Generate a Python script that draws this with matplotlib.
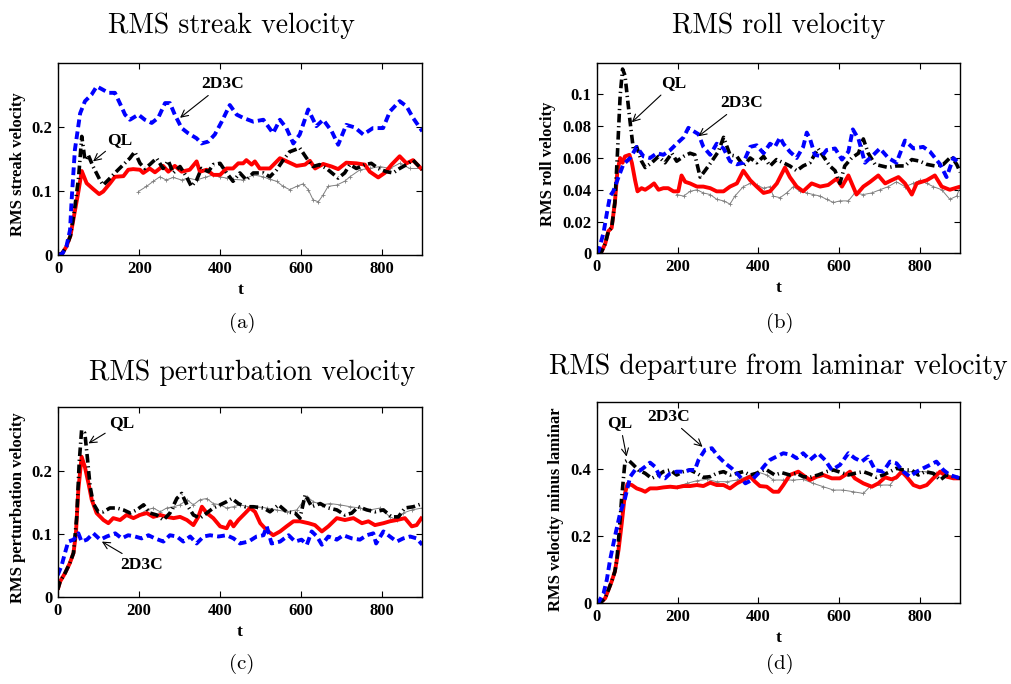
import numpy as np
import matplotlib
matplotlib.use('Agg')
import matplotlib.pyplot as plt

# %% data (t, value)
# (a) RMS streak velocity
red_a_t = [0, 10, 20, 30, 40, 50, 58, 70, 86, 101, 111, 128, 140, 161, 173, 185, 202, 210, 226, 239,
           259, 272, 288, 305, 325, 342, 350, 367, 383, 400, 416, 432, 445, 457, 465, 478, 486, 498,
           523, 548, 572, 589, 610, 622, 635, 655, 676, 692, 712, 737, 758, 770, 791, 807, 824, 844,
           861, 877, 900]
red_a = [0, 0.003, 0.013, 0.03, 0.065, 0.10, 0.131, 0.112, 0.103, 0.095, 0.099, 0.112, 0.122, 0.123,
         0.133, 0.134, 0.133, 0.128, 0.135, 0.129, 0.139, 0.130, 0.139, 0.130, 0.133, 0.146, 0.130,
         0.133, 0.125, 0.125, 0.135, 0.135, 0.143, 0.143, 0.148, 0.141, 0.146, 0.135, 0.135, 0.151,
         0.144, 0.139, 0.141, 0.147, 0.135, 0.142, 0.138, 0.134, 0.144, 0.143, 0.141, 0.130, 0.121,
         0.128, 0.141, 0.154, 0.143, 0.148, 0.133]
blue_a_t = [0, 10, 20, 29, 33, 41, 54, 66, 82, 95, 107, 124, 140, 152, 165, 177, 198, 214, 231, 247,
            264, 276, 288, 305, 321, 342, 354, 371, 387, 404, 424, 441, 457, 482, 507, 531, 548, 564,
            581, 597, 618, 638, 655, 676, 692, 712, 733, 754, 778, 803, 820, 844, 861, 877, 900]
blue_a = [0, 0.002, 0.013, 0.039, 0.086, 0.164, 0.221, 0.24, 0.25, 0.263, 0.259, 0.253, 0.253, 0.237,
          0.219, 0.211, 0.219, 0.211, 0.206, 0.214, 0.237, 0.237, 0.219, 0.198, 0.19, 0.182, 0.174,
          0.177, 0.188, 0.208, 0.234, 0.219, 0.214, 0.208, 0.211, 0.190, 0.211, 0.198, 0.174, 0.188,
          0.227, 0.201, 0.211, 0.193, 0.172, 0.203, 0.199, 0.188, 0.198, 0.198, 0.224, 0.240, 0.232,
          0.214, 0.193]
black_a_t = [0, 10, 20, 30, 40, 50, 58, 66, 74, 86, 103, 111, 128, 140, 161, 177, 189, 202, 214, 226,
             243, 259, 272, 284, 301, 317, 329, 342, 354, 371, 383, 400, 416, 432, 449, 465, 482, 507,
             523, 540, 556, 572, 597, 614, 630, 646, 663, 692, 708, 721, 737, 758, 774, 791, 811, 828,
             844, 861, 877, 900]
black_a = [0, 0.003, 0.013, 0.03, 0.07, 0.12, 0.185, 0.148, 0.156, 0.138, 0.117, 0.109, 0.12, 0.128,
           0.141, 0.151, 0.161, 0.143, 0.135, 0.141, 0.151, 0.135, 0.147, 0.128, 0.138, 0.122, 0.107,
           0.117, 0.135, 0.130, 0.141, 0.143, 0.128, 0.115, 0.128, 0.117, 0.128, 0.128, 0.122, 0.133,
           0.148, 0.161, 0.167, 0.151, 0.138, 0.141, 0.135, 0.12, 0.128, 0.141, 0.135, 0.141, 0.143,
           0.135, 0.130, 0.128, 0.135, 0.141, 0.148, 0.133]
gray_a_t = [198, 218, 235, 251, 267, 284, 305, 321, 342, 362, 383, 400, 416, 432, 457, 482, 507, 523,
            540, 556, 572, 589, 605, 618, 630, 643, 655, 667, 688, 708, 721, 746, 770, 795, 820, 844,
            869, 900]
gray_a = [0.099, 0.107, 0.115, 0.122, 0.117, 0.121, 0.117, 0.120, 0.117, 0.121, 0.125, 0.122, 0.120,
          0.118, 0.117, 0.125, 0.122, 0.118, 0.115, 0.107, 0.102, 0.107, 0.111, 0.102, 0.086, 0.083,
          0.094, 0.107, 0.109, 0.115, 0.122, 0.133, 0.135, 0.138, 0.135, 0.143, 0.135, 0.135]

# (b) RMS roll velocity
red_b_t = [0, 12, 21, 29, 37, 45, 51, 58, 64, 70, 81, 87, 95, 101, 111, 120, 132, 142, 153, 165, 177,
           190, 202, 210, 219, 231, 248, 264, 281, 297, 314, 330, 347, 363, 380, 396, 413, 429, 446,
           466, 478, 495, 511, 532, 553, 573, 594, 607, 623, 643, 660, 677, 697, 714, 730, 747, 763,
           780, 792, 817, 837, 854, 874, 900]
red_b = [0, 0.001, 0.006, 0.014, 0.016, 0.032, 0.051, 0.060, 0.057, 0.061, 0.062, 0.057, 0.046, 0.039,
         0.041, 0.040, 0.042, 0.044, 0.040, 0.041, 0.041, 0.039, 0.039, 0.049, 0.045, 0.044, 0.042,
         0.042, 0.041, 0.039, 0.039, 0.042, 0.044, 0.052, 0.046, 0.042, 0.038, 0.039, 0.044, 0.054,
         0.048, 0.042, 0.039, 0.044, 0.042, 0.043, 0.047, 0.042, 0.049, 0.037, 0.042, 0.045, 0.049,
         0.044, 0.046, 0.048, 0.044, 0.037, 0.044, 0.046, 0.049, 0.042, 0.040, 0.042]
blue_b_t = [0, 4, 17, 25, 33, 41, 54, 66, 83, 99, 116, 132, 149, 165, 182, 198, 215, 227, 239, 252,
            264, 281, 297, 314, 330, 347, 363, 380, 396, 413, 429, 441, 454, 462, 478, 495, 511, 520,
            528, 540, 557, 569, 590, 607, 623, 634, 648, 664, 685, 701, 722, 742, 763, 784, 808, 825,
            850, 866, 883, 900]
blue_b = [0, 0.001, 0.013, 0.025, 0.036, 0.039, 0.048, 0.056, 0.060, 0.067, 0.061, 0.060, 0.063,
          0.062, 0.065, 0.069, 0.073, 0.079, 0.077, 0.075, 0.067, 0.062, 0.069, 0.066, 0.058, 0.056,
          0.057, 0.067, 0.068, 0.063, 0.069, 0.067, 0.073, 0.069, 0.064, 0.060, 0.067, 0.076, 0.072,
          0.062, 0.061, 0.065, 0.066, 0.059, 0.064, 0.078, 0.072, 0.057, 0.062, 0.066, 0.060, 0.057,
          0.071, 0.066, 0.067, 0.064, 0.056, 0.048, 0.060, 0.056]
black_b_t = [0, 12, 21, 29, 37, 45, 51, 58, 64, 70, 76, 83, 91, 99, 111, 120, 136, 153, 169, 186, 198,
             215, 231, 243, 256, 268, 285, 301, 314, 330, 347, 363, 380, 396, 413, 429, 445, 462, 478,
             495, 511, 528, 548, 561, 577, 590, 602, 614, 631, 648, 660, 672, 689, 705, 722, 742, 763,
             780, 800, 817, 837, 858, 878, 891, 900]
black_b = [0, 0.001, 0.006, 0.014, 0.016, 0.032, 0.061, 0.099, 0.116, 0.112, 0.098, 0.082, 0.065,
           0.067, 0.058, 0.054, 0.057, 0.061, 0.057, 0.063, 0.058, 0.061, 0.063, 0.062, 0.048, 0.052,
           0.058, 0.064, 0.073, 0.062, 0.061, 0.055, 0.060, 0.057, 0.061, 0.055, 0.059, 0.057, 0.055,
           0.052, 0.055, 0.057, 0.066, 0.061, 0.055, 0.052, 0.044, 0.055, 0.060, 0.063, 0.072, 0.063,
           0.056, 0.055, 0.054, 0.055, 0.055, 0.059, 0.058, 0.056, 0.055, 0.056, 0.061, 0.056, 0.051]
gray_b_t = [198, 215, 231, 248, 264, 281, 297, 314, 330, 342, 363, 380, 396, 413, 429, 437, 454, 470,
            487, 503, 520, 536, 553, 569, 586, 602, 623, 639, 660, 681, 701, 722, 742, 763, 784, 800,
            817, 833, 854, 874, 891, 900]
gray_b = [0.037, 0.036, 0.039, 0.040, 0.038, 0.037, 0.034, 0.033, 0.031, 0.036, 0.042, 0.044, 0.043,
          0.041, 0.042, 0.036, 0.035, 0.038, 0.042, 0.039, 0.038, 0.037, 0.036, 0.034, 0.032, 0.033,
          0.033, 0.038, 0.037, 0.038, 0.040, 0.042, 0.045, 0.042, 0.044, 0.046, 0.044, 0.042, 0.040,
          0.034, 0.036, 0.042]

# (c) RMS perturbation velocity
red_c_t = [0, 6, 18, 30, 39, 45, 51, 59, 67, 76, 84, 96, 113, 125, 137, 154, 170, 187, 203, 220, 236,
           253, 269, 286, 302, 319, 335, 347, 356, 368, 384, 401, 417, 426, 434, 446, 463, 475, 487,
           500, 516, 532, 549, 565, 582, 598, 619, 635, 652, 668, 689, 709, 730, 751, 767, 783, 804,
           820, 837, 857, 874, 886, 900]
red_c = [0.012, 0.025, 0.038, 0.054, 0.070, 0.101, 0.170, 0.222, 0.206, 0.180, 0.154, 0.133, 0.122,
         0.117, 0.125, 0.122, 0.130, 0.125, 0.130, 0.133, 0.127, 0.130, 0.127, 0.125, 0.127, 0.122,
         0.114, 0.127, 0.143, 0.133, 0.125, 0.112, 0.109, 0.120, 0.112, 0.122, 0.133, 0.141, 0.135,
         0.117, 0.106, 0.098, 0.104, 0.112, 0.120, 0.120, 0.117, 0.114, 0.104, 0.112, 0.125, 0.122,
         0.125, 0.117, 0.120, 0.114, 0.117, 0.120, 0.122, 0.125, 0.112, 0.114, 0.127]
blue_c_t = [0, 10, 18, 26, 39, 51, 59, 72, 88, 105, 121, 142, 158, 174, 191, 207, 224, 240, 261, 277,
            294, 310, 327, 343, 360, 376, 397, 417, 434, 450, 471, 491, 508, 516, 528, 549, 570, 586,
            602, 615, 627, 640, 652, 668, 689, 705, 726, 746, 763, 779, 786, 804, 820, 837, 853, 870,
            886, 900]
blue_c = [0.035, 0.051, 0.070, 0.088, 0.091, 0.101, 0.088, 0.091, 0.101, 0.091, 0.096, 0.101, 0.093,
          0.098, 0.096, 0.093, 0.098, 0.093, 0.088, 0.098, 0.096, 0.088, 0.096, 0.085, 0.096, 0.098,
          0.096, 0.098, 0.093, 0.085, 0.088, 0.096, 0.098, 0.112, 0.085, 0.088, 0.098, 0.088, 0.091,
          0.083, 0.104, 0.096, 0.083, 0.096, 0.091, 0.098, 0.093, 0.091, 0.098, 0.101, 0.085, 0.104,
          0.096, 0.088, 0.093, 0.096, 0.093, 0.083]
black_c_t = [0, 6, 18, 30, 39, 47, 53, 59, 67, 73, 80, 88, 100, 113, 129, 146, 162, 179, 195, 212, 228,
             244, 261, 277, 294, 306, 319, 335, 351, 368, 384, 401, 417, 430, 446, 463, 483, 508, 524,
             545, 565, 586, 598, 611, 627, 648, 668, 689, 709, 726, 742, 763, 783, 804, 824, 841, 857,
             878, 900]
black_c = [0.012, 0.025, 0.038, 0.054, 0.070, 0.127, 0.212, 0.264, 0.259, 0.222, 0.175, 0.148, 0.135,
           0.135, 0.141, 0.141, 0.138, 0.133, 0.138, 0.146, 0.133, 0.130, 0.122, 0.133, 0.156, 0.164,
           0.146, 0.130, 0.125, 0.133, 0.141, 0.146, 0.151, 0.156, 0.148, 0.143, 0.143, 0.141, 0.135,
           0.146, 0.135, 0.133, 0.125, 0.162, 0.143, 0.148, 0.141, 0.138, 0.130, 0.133, 0.143, 0.138,
           0.135, 0.138, 0.127, 0.127, 0.141, 0.143, 0.148]
gray_c_t = [199, 220, 236, 253, 269, 286, 302, 319, 335, 351, 368, 384, 401, 417, 434, 450, 471, 491,
            516, 541, 565, 590, 615, 631, 652, 672, 697, 722, 746, 771, 796, 820, 837, 853, 874, 900]
gray_c = [0.130, 0.138, 0.141, 0.135, 0.141, 0.143, 0.146, 0.154, 0.146, 0.154, 0.156, 0.148, 0.146,
          0.141, 0.143, 0.146, 0.143, 0.143, 0.141, 0.138, 0.135, 0.138, 0.159, 0.151, 0.146, 0.148,
          0.146, 0.143, 0.141, 0.138, 0.141, 0.127, 0.122, 0.133, 0.138, 0.141]

# (d) RMS departure from laminar velocity
red_d_t = [0, 12, 21, 29, 37, 45, 54, 62, 70, 76, 87, 99, 111, 120, 132, 149, 165, 182, 198, 215, 231,
           248, 264, 281, 297, 314, 330, 347, 363, 380, 392, 404, 421, 437, 450, 462, 478, 499, 516,
           528, 545, 561, 582, 602, 615, 627, 639, 660, 681, 697, 714, 730, 742, 755, 767, 784, 800,
           817, 833, 850, 866, 883, 900]
red_d = [0, 0.005, 0.015, 0.040, 0.065, 0.095, 0.159, 0.239, 0.328, 0.356, 0.353, 0.343, 0.338, 0.333,
         0.343, 0.343, 0.346, 0.348, 0.346, 0.350, 0.350, 0.353, 0.350, 0.360, 0.353, 0.353, 0.343,
         0.358, 0.368, 0.378, 0.363, 0.350, 0.348, 0.333, 0.333, 0.353, 0.383, 0.393, 0.378, 0.368,
         0.378, 0.383, 0.373, 0.373, 0.383, 0.393, 0.373, 0.358, 0.348, 0.358, 0.376, 0.370, 0.376,
         0.393, 0.378, 0.353, 0.346, 0.353, 0.373, 0.393, 0.378, 0.373, 0.373]
blue_d_t = [0, 4, 17, 25, 33, 45, 58, 70, 83, 95, 107, 120, 132, 144, 157, 169, 182, 198, 215, 231,
            243, 252, 268, 285, 301, 318, 334, 351, 368, 384, 400, 417, 429, 445, 462, 482, 495, 511,
            528, 548, 565, 582, 602, 623, 639, 656, 672, 689, 709, 726, 742, 759, 775, 792, 808, 825,
            841, 858, 874, 900]
blue_d = [0, 0.002, 0.030, 0.070, 0.129, 0.199, 0.269, 0.313, 0.378, 0.398, 0.396, 0.408, 0.420,
          0.408, 0.378, 0.373, 0.388, 0.393, 0.393, 0.398, 0.398, 0.428, 0.458, 0.463, 0.438, 0.418,
          0.403, 0.383, 0.358, 0.368, 0.388, 0.413, 0.428, 0.438, 0.448, 0.443, 0.433, 0.448, 0.428,
          0.448, 0.428, 0.398, 0.413, 0.448, 0.433, 0.423, 0.438, 0.398, 0.393, 0.423, 0.418, 0.393,
          0.378, 0.393, 0.403, 0.413, 0.423, 0.398, 0.383, 0.373]
black_d_t = [0, 12, 21, 29, 37, 45, 50, 56, 62, 70, 78, 91, 103, 120, 136, 153, 165, 182, 198, 215,
             231, 248, 264, 281, 297, 314, 330, 347, 363, 380, 396, 413, 421, 441, 458, 478, 495, 511,
             528, 548, 569, 586, 606, 623, 639, 660, 676, 693, 709, 726, 742, 759, 779, 796, 813, 833,
             850, 866, 883, 900]
black_d = [0, 0.005, 0.015, 0.040, 0.065, 0.095, 0.130, 0.219, 0.318, 0.423, 0.428, 0.413, 0.398,
           0.388, 0.373, 0.383, 0.393, 0.398, 0.383, 0.393, 0.398, 0.388, 0.376, 0.378, 0.388, 0.393,
           0.383, 0.388, 0.393, 0.383, 0.388, 0.398, 0.398, 0.383, 0.390, 0.383, 0.388, 0.378, 0.376,
           0.383, 0.393, 0.398, 0.390, 0.383, 0.388, 0.393, 0.386, 0.376, 0.383, 0.393, 0.403, 0.398,
           0.398, 0.383, 0.393, 0.388, 0.368, 0.383, 0.378, 0.373]
gray_d_t = [198, 223, 248, 272, 297, 322, 347, 371, 396, 421, 437, 462, 487, 511, 536, 561, 586, 610,
            635, 660, 676, 701, 726, 742, 767, 792, 817, 841, 866, 900]
gray_d = [0.348, 0.358, 0.366, 0.370, 0.363, 0.363, 0.368, 0.378, 0.393, 0.383, 0.368, 0.368, 0.368,
          0.370, 0.358, 0.348, 0.338, 0.338, 0.333, 0.328, 0.348, 0.353, 0.353, 0.378, 0.393, 0.393,
          0.393, 0.388, 0.383, 0.378]

titles = ['RMS streak velocity', 'RMS roll velocity',
          'RMS perturbation velocity', 'RMS departure from laminar velocity']
ylabels = ['RMS streak velocity', 'RMS roll velocity',
           'RMS perturbation velocity', 'RMS velocity minus laminar']
captions = ['(a)', '(b)', '(c)', '(d)']

# %% figure
W, H = 1012, 684
fig = plt.figure(figsize=(W / 100, H / 100), dpi=100)

def px_axes(x0, y0, x1, y1):
    # axes from pixel box (top-left origin)
    return fig.add_axes([x0 / W, 1 - y1 / H, (x1 - x0) / W, (y1 - y0) / H])

ax_a = px_axes(58.3, 62.7, 422.3, 255.0)
ax_b = px_axes(596.7, 62.7, 960.3, 253.3)
ax_c = px_axes(57.7, 407.3, 422.3, 597.3)
ax_d = px_axes(596.7, 402.3, 960.3, 603.3)

bold = dict(family='Liberation Serif', weight='bold')
blue_dash = (0, (2.0, 1.1))
black_dashdot = (0, (2.4, 1.0, 0.35, 1.0))

panels = [
    (ax_a, (red_a_t, red_a), (blue_a_t, blue_a), (black_a_t, black_a), (gray_a_t, gray_a)),
    (ax_b, (red_b_t, red_b), (blue_b_t, blue_b), (black_b_t, black_b), (gray_b_t, gray_b)),
    (ax_c, (red_c_t, red_c), (blue_c_t, blue_c), (black_c_t, black_c), (gray_c_t, gray_c)),
    (ax_d, (red_d_t, red_d), (blue_d_t, blue_d), (black_d_t, black_d), (gray_d_t, gray_d)),
]

for ax, red, blue, black, gray in panels:
    ax.plot(gray[0], gray[1], color='0.5', lw=0.7, marker='+', ms=3.5, mew=0.6)
    ax.plot(red[0], red[1], color='red', lw=2.8, solid_capstyle='butt')
    ax.plot(black[0], black[1], color='black', lw=2.6, linestyle=black_dashdot)
    ax.plot(blue[0], blue[1], color='blue', lw=2.8, linestyle=blue_dash)

# %% cosmetics
ylims = [(0, 0.3), (0, 0.12), (0, 0.3), (0, 0.6)]
yticks = [[0, 0.1, 0.2], [0, 0.02, 0.04, 0.06, 0.08, 0.1], [0, 0.1, 0.2], [0, 0.2, 0.4]]
ylabel_x = [-0.089, -0.112, -0.087, -0.089]

for i, ax in enumerate([ax_a, ax_b, ax_c, ax_d]):
    ax.set_xlim(0, 900)
    ax.set_ylim(*ylims[i])
    ax.set_xticks([0, 200, 400, 600, 800])
    ax.set_yticks(yticks[i])
    ax.set_yticklabels(['0' if v == 0 else '%g' % v for v in yticks[i]])
    ax.tick_params(direction='in', top=True, right=True, length=4, width=0.8, pad=4)
    for lab in ax.get_xticklabels() + ax.get_yticklabels():
        lab.set_fontproperties(dict(family='Liberation Serif', weight='bold', size=12))
    for s in ax.spines.values():
        s.set_linewidth(1.0)
    ax.set_xlabel('t', fontsize=12.5, labelpad=4, **bold)
    ax.set_ylabel(ylabels[i], fontsize=12, **bold)
    ax.yaxis.set_label_coords(ylabel_x[i], 0.47)

# annotations
arrow = dict(arrowstyle='->', lw=0.8, color='black', shrinkA=1, shrinkB=0)
ann = dict(fontsize=12.5, ha='center', va='center', arrowprops=arrow, **bold)
ax_a.annotate('QL', xy=(86, 0.146), xytext=(152, 0.180), **ann)
ax_a.annotate('2D3C', xy=(301, 0.214), xytext=(407, 0.267), **ann)
ax_b.annotate('QL', xy=(87, 0.0825), xytext=(190, 0.107), **ann)
ax_b.annotate('2D3C', xy=(252, 0.0737), xytext=(359, 0.0947), **ann)
ax_c.annotate('QL', xy=(76, 0.243), xytext=(158, 0.275), **ann)
ax_c.annotate('2D3C', xy=(109, 0.088), xytext=(207, 0.051), **ann)
ax_d.annotate('QL', xy=(74, 0.438), xytext=(58, 0.537), **ann)
ax_d.annotate('2D3C', xy=(262, 0.467), xytext=(177, 0.557), **ann)

# titles and captions (pixel placement)
title_pos = [(231, 33), (779, 33), (252, 380), (778, 374)]
cap_pos = [(242, 323), (780, 323), (242, 664), (780, 664)]
for i in range(4):
    fig.text(title_pos[i][0] / W, 1 - title_pos[i][1] / H, titles[i], family='cmr10',
             fontsize=20, ha='center', va='baseline')
    fig.text(cap_pos[i][0] / W, 1 - cap_pos[i][1] / H, captions[i], family='cmr10',
             fontsize=15, ha='center', va='center')

fig.savefig('out.png', dpi=100)
